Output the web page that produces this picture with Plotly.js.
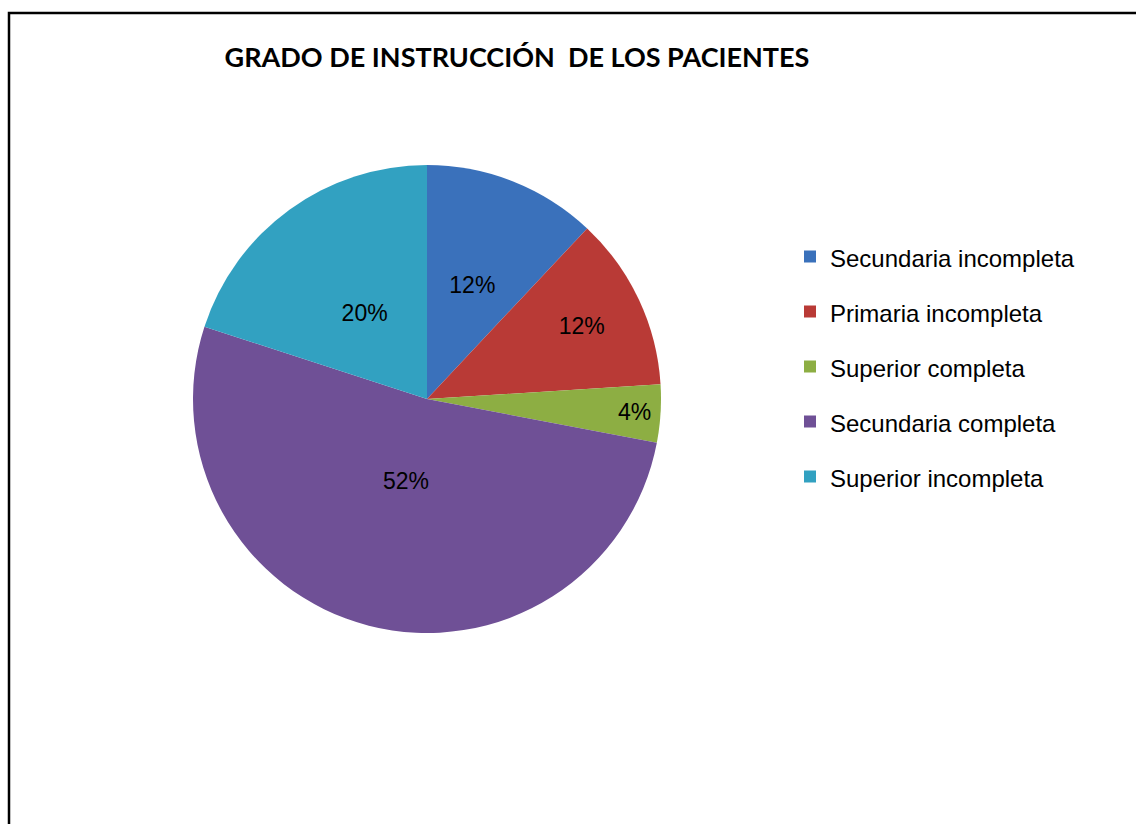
<!DOCTYPE html>
<html>
<head>
<meta charset="utf-8">
<script src="https://cdn.plot.ly/plotly-3.0.1.min.js"></script>
<style>
  html, body { margin: 0; padding: 0; background: #ffffff; }
  #chart { width: 1136px; height: 824px; }
</style>
</head>
<body>
<div id="chart"></div>
<script>
// ---- data ----
const categories = [
  "Secundaria incompleta",
  "Primaria incompleta",
  "Superior completa",
  "Secundaria completa",
  "Superior incompleta"
];
const percentages = [12, 12, 4, 52, 20];
const sliceColors = ["#3A71BB", "#B93A36", "#8DAE43", "#6F5096", "#32A1C1"];
const chartTitle = "GRADO DE INSTRUCCIÓN  DE LOS PACIENTES";

// which slices get their label from the outer pie (true) or the inner label ring (false)
const labelOnOuter = [false, true, true, false, false];

// legend labels padded with blank lines to reproduce the wide legend row spacing
const legendLabels = categories.map(c =>
  "<br><br><span style='font-size:24px'>" + c + "</span><br> ");

const W = 1136, H = 824;
const cx = 427, cy = 399, R = 234;
const rInner = R * 0.72;

const labelFont = { family: "Liberation Sans, Arial, sans-serif", size: 23, color: "#000000" };

function dom(r) {
  return {
    x: [(cx - r) / W, (cx + r) / W],
    y: [1 - (cy + r) / H, 1 - (cy - r) / H]
  };
}

const mainPie = {
  type: "pie",
  labels: legendLabels,
  values: percentages,
  sort: false,
  direction: "clockwise",
  rotation: 0,
  marker: { colors: sliceColors, line: { width: 0 } },
  texttemplate: labelOnOuter.map(o => o ? "%{value}%" : ""),
  textposition: "inside",
  insidetextorientation: "horizontal",
  insidetextfont: labelFont,
  hoverinfo: "none",
  domain: dom(R)
};

const labelPie = {
  type: "pie",
  labels: legendLabels,
  values: percentages,
  sort: false,
  direction: "clockwise",
  rotation: 0,
  showlegend: false,
  marker: { colors: categories.map(() => "rgba(0,0,0,0)"), line: { width: 0 } },
  texttemplate: labelOnOuter.map(o => o ? "" : "%{value}%"),
  textposition: "inside",
  insidetextorientation: "horizontal",
  insidetextfont: labelFont,
  hoverinfo: "none",
  domain: dom(rInner)
};

const layout = {
  width: W,
  height: H,
  margin: { l: 0, r: 0, t: 0, b: 0 },
  paper_bgcolor: "#ffffff",
  plot_bgcolor: "#ffffff",
  title: {
    text: "<b>" + chartTitle + "</b>",
    x: 517 / W,
    xanchor: "center",
    y: 1 - 58 / H,
    yanchor: "middle",
    font: { family: "Lato, Open Sans, sans-serif", size: 27, color: "#000000" }
  },
  showlegend: true,
  legend: {
    x: 790 / W,
    xanchor: "left",
    y: 1 - 224 / H,
    yanchor: "top",
    font: { family: "Liberation Sans, Arial, sans-serif", size: 10, color: "#000000" },
    bgcolor: "rgba(0,0,0,0)",
    borderwidth: 0,
    traceorder: "normal"
  },
  shapes: [{
    type: "rect",
    xref: "paper", yref: "paper",
    x0: 9 / W, x1: 1.05,
    y0: -0.05, y1: 1 - 13 / H,
    line: { color: "#000000", width: 2.5 },
    fillcolor: "rgba(0,0,0,0)"
  }]
};

Plotly.newPlot("chart", [mainPie, labelPie], layout, { staticPlot: true, displayModeBar: false });
</script>
</body>
</html>
